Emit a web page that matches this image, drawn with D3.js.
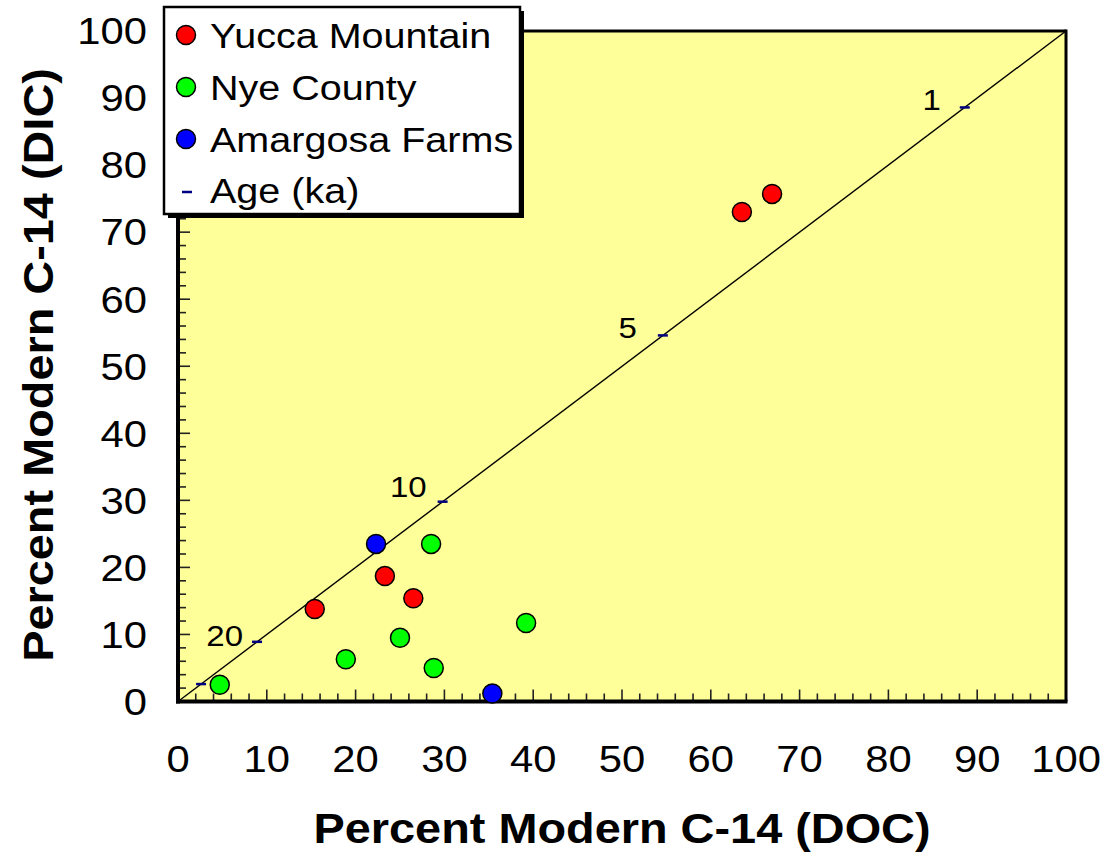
<!DOCTYPE html>
<html>
<head>
<meta charset="utf-8">
<script src="https://cdn.jsdelivr.net/npm/d3@7"></script>
<style>
  html, body { margin: 0; padding: 0; background: #ffffff; }
  svg { display: block; font-family: "Liberation Sans", Arial, Helvetica, sans-serif; }
</style>
</head>
<body>
<svg id="chart" width="1110" height="853"></svg>
<script>
// Sample groups: percent modern C-14 in DOC (x) and DIC (y)
const yuccaDOC = [63.5, 66.9, 15.4, 23.3, 26.5];
const yuccaDIC = [73.0, 75.7, 13.8, 18.7, 15.4];

const nyeDOC = [4.7, 18.9, 25.0, 28.5, 28.8, 39.2];
const nyeDIC = [2.5, 6.3, 9.5, 23.5, 5.0, 11.7];

const amargosaDOC = [22.3, 35.4];
const amargosaDIC = [23.5, 1.2];

// Age marks along the 1:1 line (ka) and the matching percent modern
const ageKa = [1, 5, 10, 20, 30];
const agePMC = [88.6, 54.6, 29.8, 8.9, 2.6];
const ageLabels = ["1", "5", "10", "20", ""];

const axisTicks = [0, 10, 20, 30, 40, 50, 60, 70, 80, 90, 100];

const seriesNames = ["Yucca Mountain", "Nye County", "Amargosa Farms"];
const seriesColors = ["#ff0000", "#00ff00", "#0000ff"];

const series = [
  { name: seriesNames[0], color: seriesColors[0], x: yuccaDOC, y: yuccaDIC },
  { name: seriesNames[1], color: seriesColors[1], x: nyeDOC, y: nyeDIC },
  { name: seriesNames[2], color: seriesColors[2], x: amargosaDOC, y: amargosaDIC }
];

const svg = d3.select("#chart");
const plot = { left: 178, right: 1066, top: 31, bottom: 701.5 };

const x = d3.scaleLinear().domain([0, 100]).range([plot.left, plot.right]);
const y = d3.scaleLinear().domain([0, 100]).range([plot.bottom, plot.top]);

// text drawn slightly wide, as in the original figure's typeface
function wideText(parent, px, py, sx, extra) {
  return parent.append("text")
    .attr("transform", `translate(${px},${py})${extra || ""} scale(${sx},1)`);
}

// plot background
svg.append("rect")
  .attr("x", plot.left).attr("y", plot.top)
  .attr("width", plot.right - plot.left).attr("height", plot.bottom - plot.top)
  .attr("fill", "#ffff99");

// inward ticks: minor every 2, major every 10
const minorVals = d3.range(0, 101, 2);
const tickG = svg.append("g").attr("stroke", "#222").attr("stroke-width", 1.6);
minorVals.forEach(v => {
  const len = v % 10 === 0 ? 12 : 8;
  if (v > 0 && v < 100) {
    tickG.append("line")
      .attr("x1", x(v)).attr("x2", x(v))
      .attr("y1", plot.bottom).attr("y2", plot.bottom - len);
    tickG.append("line")
      .attr("x1", plot.left).attr("x2", plot.left + len)
      .attr("y1", y(v)).attr("y2", y(v));
  }
});

// 1:1 line
svg.append("line")
  .attr("x1", x(0)).attr("y1", y(0))
  .attr("x2", x(100)).attr("y2", y(100))
  .attr("stroke", "#000").attr("stroke-width", 1.4);

// frame
svg.append("line").attr("x1", plot.left).attr("x2", plot.right)
  .attr("y1", plot.top).attr("y2", plot.top)
  .attr("stroke", "#000").attr("stroke-width", 3);
svg.append("line").attr("x1", plot.right).attr("x2", plot.right)
  .attr("y1", plot.top - 1.5).attr("y2", plot.bottom)
  .attr("stroke", "#000").attr("stroke-width", 3);
svg.append("line").attr("x1", plot.left - 2).attr("x2", plot.right + 1.5)
  .attr("y1", plot.bottom).attr("y2", plot.bottom)
  .attr("stroke", "#000").attr("stroke-width", 4);
svg.append("line").attr("x1", plot.left).attr("x2", plot.left)
  .attr("y1", plot.top).attr("y2", plot.bottom + 2)
  .attr("stroke", "#000").attr("stroke-width", 4);

// age marks on the line
const ageG = svg.append("g");
const labelShift = [[-24, 3], [-26, 3], [-16, -5], [-14, 4], [0, 0]];
ageKa.forEach((a, i) => {
  ageG.append("line")
    .attr("x1", x(agePMC[i]) - 5).attr("x2", x(agePMC[i]) + 5)
    .attr("y1", y(agePMC[i])).attr("y2", y(agePMC[i]))
    .attr("stroke", "#000080").attr("stroke-width", 2.5);
  if (ageLabels[i]) {
    wideText(ageG, x(agePMC[i]) + labelShift[i][0], y(agePMC[i]) + labelShift[i][1], 1.1)
      .attr("text-anchor", "end")
      .attr("font-size", 30)
      .attr("fill", "#000")
      .text(ageLabels[i]);
  }
});

// data points
series.forEach(s => {
  svg.append("g").selectAll("circle")
    .data(s.x.map((v, i) => [v, s.y[i]]))
    .join("circle")
    .attr("cx", d => x(d[0]))
    .attr("cy", d => y(d[1]))
    .attr("r", 9.5)
    .attr("fill", s.color)
    .attr("stroke", "#000")
    .attr("stroke-width", 1.5);
});

// tick labels
const xLab = svg.append("g");
axisTicks.forEach(d => {
  wideText(xLab, x(d), 772, 1.13)
    .attr("text-anchor", "middle")
    .attr("font-size", 37)
    .text(d);
});

const yLab = svg.append("g");
axisTicks.forEach(d => {
  wideText(yLab, 147, y(d), 1.13)
    .attr("dy", "0.36em")
    .attr("text-anchor", "end")
    .attr("font-size", 37)
    .text(d);
});

// axis titles
wideText(svg, (plot.left + plot.right) / 2, 843, 1.09)
  .attr("text-anchor", "middle")
  .attr("font-size", 43).attr("font-weight", "bold")
  .text("Percent Modern C-14 (DOC)");

wideText(svg, 53, 365, 1.09, " rotate(-90)")
  .attr("text-anchor", "middle")
  .attr("font-size", 43).attr("font-weight", "bold")
  .text("Percent Modern C-14 (DIC)");

// legend
const leg = svg.append("g");
leg.append("rect").attr("x", 168).attr("y", 11).attr("width", 356).attr("height", 207)
  .attr("fill", "#000");
leg.append("rect").attr("x", 164).attr("y", 7).attr("width", 356).attr("height", 207)
  .attr("fill", "#fff").attr("stroke", "#000").attr("stroke-width", 2.5);

const legRows = [48, 100, 152, 203];
series.forEach((s, i) => {
  leg.append("circle")
    .attr("cx", 186).attr("cy", legRows[i] - 13)
    .attr("r", 9.5)
    .attr("fill", s.color).attr("stroke", "#000").attr("stroke-width", 1.5);
  wideText(leg, 210, legRows[i], 1.13)
    .attr("font-size", 35)
    .text(s.name);
});
leg.append("line")
  .attr("x1", 182).attr("x2", 192)
  .attr("y1", legRows[3] - 11).attr("y2", legRows[3] - 11)
  .attr("stroke", "#000080").attr("stroke-width", 2.5);
wideText(leg, 210, legRows[3], 1.13)
  .attr("font-size", 35)
  .text("Age (ka)");
</script>
</body>
</html>
